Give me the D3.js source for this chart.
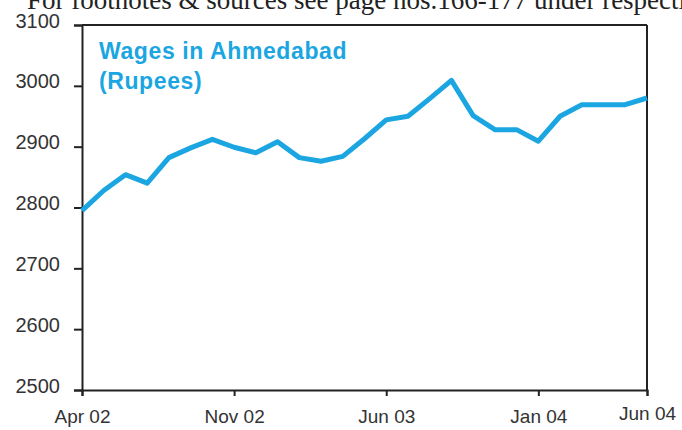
<!DOCTYPE html>
<html>
<head>
<meta charset="utf-8">
<script src="https://cdn.jsdelivr.net/npm/d3@7"></script>
<style>
  html, body { margin: 0; padding: 0; background: #fff; overflow: hidden; }
  svg { display: block; }
</style>
</head>
<body>
<svg id="chart" width="682" height="430"></svg>
<script>
const months = ["Apr 02","May 02","Jun 02","Jul 02","Aug 02","Sep 02","Oct 02","Nov 02","Dec 02",
  "Jan 03","Feb 03","Mar 03","Apr 03","May 03","Jun 03","Jul 03","Aug 03","Sep 03","Oct 03",
  "Nov 03","Dec 03","Jan 04","Feb 04","Mar 04","Apr 04","May 04","Jun 04"];
const wages = [2795, 2828, 2854, 2840, 2882, 2898, 2912, 2899, 2890,
  2908, 2882, 2876, 2884, 2913, 2944, 2950, 2979, 3009, 2951,
  2928, 2928, 2909, 2950, 2969, 2969, 2969, 2980];
const xTickLabels = ["Apr 02", "Nov 02", "Jun 03", "Jan 04", "Jun 04"];
const yTicks = [2500, 2600, 2700, 2800, 2900, 3000, 3100];
const titleLines = ["Wages in Ahmedabad", "(Rupees)"];
const topNote = "For footnotes & sources see page nos.166-177 under respecti";

const svg = d3.select("#chart");
const mLeft = 82, mRight = 647, mTop = 25, mBottom = 390;

const x = d3.scaleLinear().domain([0, months.length - 1]).range([mLeft, mRight]);
const y = d3.scaleLinear().domain([2500, 3100]).range([mBottom, mTop]);

// top note (cut off at the top edge, as in the source scan)
svg.append("text")
  .attr("x", 27).attr("y", 9)
  .attr("font-family", "'Liberation Serif', 'Times New Roman', serif")
  .attr("font-size", 27)
  .attr("fill", "#222")
  .text(topNote);

// frame: top and right
svg.append("line").attr("x1", mLeft).attr("x2", mRight).attr("y1", y(3100)).attr("y2", y(3100))
  .attr("stroke", "#222").attr("stroke-width", 2);
svg.append("line").attr("x1", mRight).attr("x2", mRight).attr("y1", y(3100)).attr("y2", y(2500))
  .attr("stroke", "#222").attr("stroke-width", 2);

// y axis
const yAxis = d3.axisLeft(y).tickValues(yTicks).tickSize(8).tickPadding(14).tickFormat(d3.format("d"));
const gy = svg.append("g").attr("transform", `translate(${mLeft},0)`).call(yAxis);
gy.select(".domain").attr("stroke", "#222").attr("stroke-width", 2);
gy.selectAll(".tick line").attr("stroke", "#222").attr("stroke-width", 2);
gy.selectAll(".tick text")
  .attr("font-family", "'Liberation Sans', Arial, sans-serif")
  .attr("font-size", 20).attr("fill", "#333").attr("dy", "0.1em");

// x axis
const xIdx = xTickLabels.map(l => months.indexOf(l));
const xAxis = d3.axisBottom(x).tickValues(xIdx).tickSize(6).tickPadding(14)
  .tickFormat(i => months[i]);
const gx = svg.append("g").attr("transform", `translate(0,${mBottom})`).call(xAxis);
gx.select(".domain").attr("stroke", "#222").attr("stroke-width", 2);
gx.selectAll(".tick line").attr("stroke", "#222").attr("stroke-width", 2);
gx.selectAll(".tick text")
  .attr("font-family", "'Liberation Sans', Arial, sans-serif")
  .attr("font-size", 19).attr("fill", "#333");
gx.selectAll(".tick text").filter(d => d === months.length - 1).attr("dy", "0.55em");

// line
const line = d3.line().x((d, i) => x(i)).y(d => y(d));
svg.append("path").datum(wages)
  .attr("d", line)
  .attr("fill", "none")
  .attr("stroke", "#1ba6e1")
  .attr("stroke-width", 5)
  .attr("stroke-linejoin", "round");

// title
svg.append("text")
  .attr("font-family", "'Liberation Sans', Arial, sans-serif")
  .attr("font-weight", "bold").attr("font-size", 23).attr("fill", "#1ba6e1")
  .attr("letter-spacing", 0.6)
  .selectAll("tspan").data(titleLines).join("tspan")
  .attr("x", 99).attr("y", (d, i) => 59 + i * 30)
  .text(d => d);
</script>
</body>
</html>
